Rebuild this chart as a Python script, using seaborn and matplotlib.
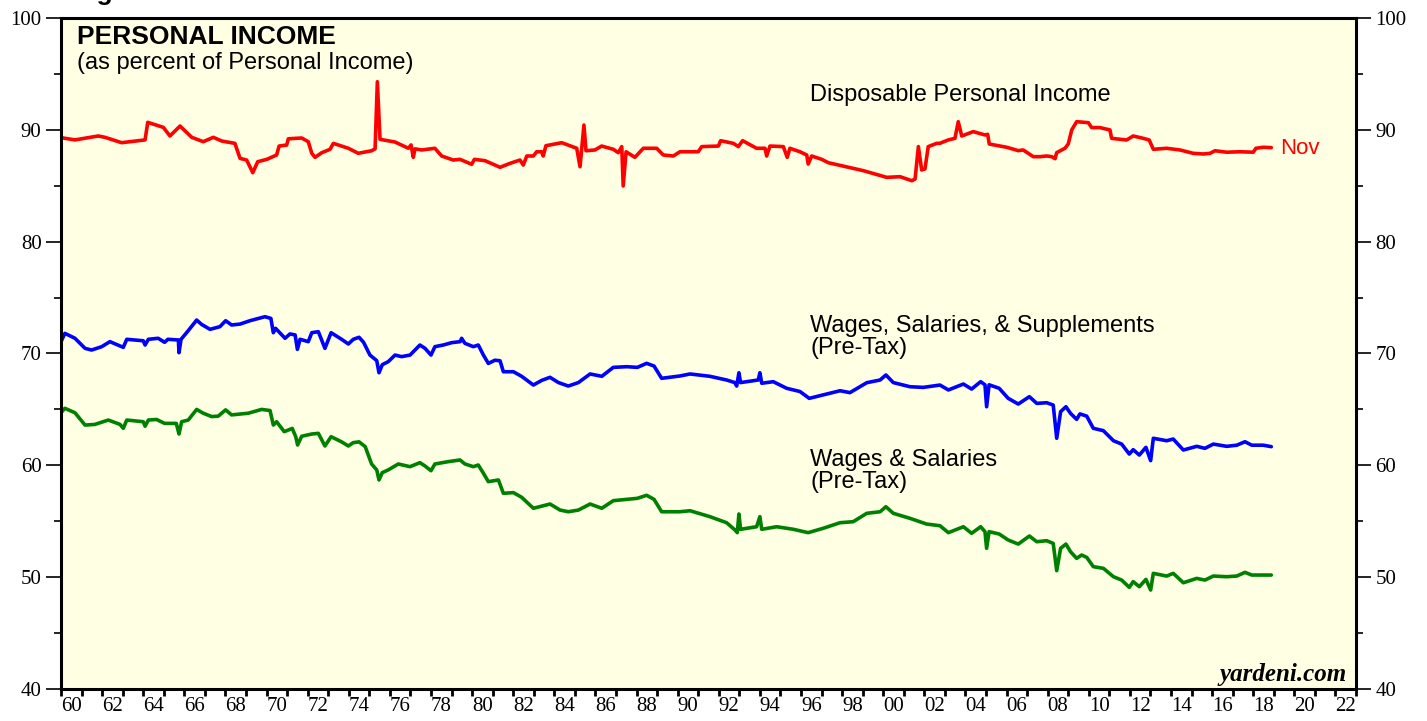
import numpy as np
import pandas as pd
import matplotlib
matplotlib.use("Agg")
import matplotlib.pyplot as plt
import seaborn as sns

# disposable personal income, % of personal income
disp_years = [1960.00, 1960.68, 1961.81, 1962.14, 1962.95, 1964.09, 1964.22, 1964.98, 1965.30, 1965.79,
              1966.36, 1966.92, 1967.41, 1967.82, 1968.46, 1968.71, 1969.03, 1969.33, 1969.57, 1970.01,
              1970.49, 1970.61, 1970.98, 1971.06, 1971.71, 1972.03, 1972.20, 1972.36, 1972.68, 1973.09,
              1973.25, 1973.98, 1974.46, 1975.11, 1975.28, 1975.39, 1975.52, 1976.25, 1976.90, 1977.03,
              1977.14, 1977.22, 1977.55, 1978.19, 1978.52, 1979.08, 1979.41, 1979.98, 1980.11, 1980.63,
              1981.36, 1981.84, 1982.33, 1982.49, 1982.66, 1982.98, 1983.14, 1983.38, 1983.46, 1983.59,
              1984.36, 1985.09, 1985.25, 1985.44, 1985.54, 1985.98, 1986.30, 1986.87, 1987.11, 1987.28,
              1987.35, 1987.49, 1987.92, 1988.33, 1988.98, 1989.30, 1989.79, 1990.11, 1991.00, 1991.17,
              1991.98, 1992.09, 1992.71, 1992.95, 1993.16, 1993.84, 1994.25, 1994.33, 1994.49, 1995.14,
              1995.33, 1995.46, 1995.95, 1996.28, 1996.35, 1996.52, 1997.01, 1997.33, 1999.03, 2000.17,
              2000.82, 2001.39, 2001.55, 2001.71, 2001.87, 2002.03, 2002.19, 2002.60, 2002.76, 2003.17,
              2003.49, 2003.65, 2003.82, 2004.38, 2004.95, 2005.08, 2005.16, 2006.01, 2006.57, 2006.81,
              2007.30, 2007.63, 2007.95, 2008.20, 2008.36, 2008.44, 2008.84, 2009.00, 2009.17, 2009.41,
              2009.98, 2010.14, 2010.54, 2011.03, 2011.11, 2011.84, 2012.16, 2012.65, 2012.94, 2013.14,
              2013.79, 2014.44, 2015.08, 2015.57, 2015.90, 2016.14, 2016.71, 2017.36, 2018.00, 2018.13,
              2018.49, 2018.88]
disp_vals = [89.30, 89.10, 89.45, 89.33, 88.85, 89.10, 90.67, 90.22, 89.45, 90.34,
             89.33, 88.94, 89.33, 89.00, 88.79, 87.45, 87.30, 86.17, 87.15, 87.36,
             87.75, 88.55, 88.64, 89.20, 89.27, 88.94, 87.90, 87.54, 87.95, 88.26,
             88.79, 88.35, 87.90, 88.13, 88.30, 94.30, 89.15, 88.91, 88.35, 88.65,
             87.54, 88.30, 88.20, 88.35, 87.66, 87.30, 87.36, 86.92, 87.36, 87.24,
             86.65, 87.00, 87.30, 86.85, 87.66, 87.66, 88.04, 88.04, 87.66, 88.58,
             88.85, 88.35, 86.70, 90.43, 88.13, 88.20, 88.55, 88.26, 87.96, 88.50,
             84.98, 88.04, 87.54, 88.35, 88.35, 87.75, 87.66, 88.04, 88.04, 88.50,
             88.55, 89.03, 88.79, 88.50, 89.03, 88.35, 88.35, 87.66, 88.55, 88.50,
             87.54, 88.35, 88.04, 87.75, 86.94, 87.66, 87.36, 87.06, 86.35, 85.75,
             85.81, 85.45, 85.60, 88.50, 86.41, 86.50, 88.50, 88.79, 88.80, 89.10,
             89.24, 90.73, 89.45, 89.84, 89.54, 89.60, 88.73, 88.44, 88.14, 88.20,
             87.60, 87.60, 87.66, 87.60, 87.42, 87.96, 88.35, 88.73, 89.99, 90.73,
             90.64, 90.20, 90.20, 89.99, 89.24, 89.09, 89.45, 89.24, 89.09, 88.26,
             88.35, 88.20, 87.90, 87.84, 87.90, 88.13, 88.00, 88.04, 88.00, 88.35,
             88.44, 88.41]

# wages, salaries & supplements, % of personal income
wss_years = [1960.00, 1960.19, 1960.68, 1961.17, 1961.49, 1961.98, 1962.38, 1963.03, 1963.20, 1964.00,
             1964.09, 1964.25, 1964.73, 1965.04, 1965.20, 1965.71, 1965.74, 1965.84, 1966.11, 1966.60,
             1966.84, 1967.25, 1967.73, 1968.01, 1968.30, 1968.71, 1969.19, 1969.92, 1970.21, 1970.33,
             1970.44, 1970.90, 1971.14, 1971.39, 1971.50, 1971.63, 1972.03, 1972.20, 1972.52, 1972.84,
             1973.14, 1973.65, 1973.98, 1974.22, 1974.50, 1974.72, 1975.03, 1975.36, 1975.47, 1975.63,
             1975.92, 1976.25, 1976.57, 1976.98, 1977.46, 1977.71, 1978.00, 1978.19, 1978.60, 1979.01,
             1979.42, 1979.49, 1979.65, 1980.06, 1980.30, 1980.55, 1980.79, 1981.11, 1981.36, 1981.52,
             1982.01, 1982.41, 1982.98, 1983.39, 1983.79, 1984.20, 1984.68, 1985.17, 1985.74, 1986.31,
             1986.87, 1987.52, 1988.04, 1988.49, 1988.85, 1989.22, 1990.11, 1990.60, 1991.57, 1992.38,
             1992.78, 1992.87, 1992.98, 1993.06, 1993.92, 1994.00, 1994.09, 1994.65, 1995.30, 1995.95,
             1996.40, 1997.08, 1997.90, 1998.38, 1999.20, 1999.85, 2000.13, 2000.49, 2001.30, 2001.95,
             2002.76, 2003.17, 2003.90, 2004.30, 2004.74, 2004.95, 2005.03, 2005.15, 2005.64, 2006.08,
             2006.57, 2007.11, 2007.47, 2007.95, 2008.27, 2008.44, 2008.63, 2008.89, 2009.11, 2009.41,
             2009.57, 2009.90, 2010.22, 2010.71, 2011.20, 2011.60, 2011.97, 2012.16, 2012.46, 2012.78,
             2013.01, 2013.14, 2013.79, 2014.11, 2014.60, 2015.25, 2015.65, 2016.06, 2016.71, 2017.20,
             2017.60, 2017.93, 2018.49, 2018.88]
wss_vals = [71.06, 71.80, 71.36, 70.46, 70.31, 70.61, 71.06, 70.55, 71.27, 71.14,
            70.76, 71.27, 71.36, 71.00, 71.27, 71.21, 70.07, 71.27, 71.86, 72.99,
            72.60, 72.16, 72.40, 72.93, 72.55, 72.63, 72.93, 73.29, 73.14, 71.86,
            72.25, 71.36, 71.75, 71.66, 70.37, 71.27, 71.06, 71.86, 71.95, 70.46,
            71.86, 71.27, 70.85, 71.27, 71.45, 71.00, 69.86, 69.36, 68.28, 69.00,
            69.27, 69.86, 69.72, 69.86, 70.76, 70.46, 69.86, 70.61, 70.76, 70.97,
            71.06, 71.36, 70.91, 70.61, 70.76, 69.86, 69.11, 69.40, 69.35, 68.37,
            68.37, 67.96, 67.18, 67.60, 67.87, 67.40, 67.09, 67.40, 68.17, 67.96,
            68.76, 68.82, 68.76, 69.12, 68.88, 67.78, 67.99, 68.17, 67.96, 67.63,
            67.40, 67.09, 68.28, 67.40, 67.63, 68.28, 67.34, 67.48, 66.89, 66.60,
            65.99, 66.30, 66.67, 66.50, 67.39, 67.63, 68.08, 67.40, 67.03, 66.97,
            67.18, 66.74, 67.27, 66.82, 67.48, 67.20, 65.24, 67.20, 66.89, 65.99,
            65.48, 66.14, 65.54, 65.60, 65.39, 62.42, 64.80, 65.24, 64.65, 64.11,
            64.60, 64.40, 63.31, 63.10, 62.20, 61.90, 61.01, 61.40, 60.92, 61.61,
            60.42, 62.42, 62.20, 62.35, 61.37, 61.70, 61.52, 61.90, 61.70, 61.80,
            62.11, 61.80, 61.80, 61.67]

# wages & salaries, % of personal income
ws_years = [1960.00, 1960.19, 1960.68, 1961.17, 1961.65, 1962.30, 1962.87, 1963.03, 1963.20, 1964.00,
            1964.09, 1964.25, 1964.65, 1965.04, 1965.61, 1965.74, 1965.87, 1966.19, 1966.60, 1966.92,
            1967.33, 1967.65, 1968.01, 1968.30, 1969.11, 1969.76, 1970.17, 1970.33, 1970.49, 1970.86,
            1971.25, 1971.42, 1971.51, 1971.71, 1972.20, 1972.52, 1972.84, 1973.14, 1973.65, 1973.98,
            1974.22, 1974.50, 1974.80, 1975.11, 1975.36, 1975.47, 1975.63, 1975.92, 1976.41, 1976.98,
            1977.46, 1977.71, 1978.00, 1978.19, 1978.84, 1979.41, 1979.65, 1980.06, 1980.30, 1980.55,
            1980.79, 1981.28, 1981.52, 1982.01, 1982.41, 1982.98, 1983.79, 1984.28, 1984.68, 1985.17,
            1985.74, 1986.31, 1986.87, 1987.52, 1988.04, 1988.49, 1988.85, 1989.22, 1990.11, 1990.60,
            1991.57, 1992.38, 1992.79, 1992.90, 1992.98, 1993.06, 1993.84, 1994.00, 1994.09, 1994.82,
            1995.63, 1996.35, 1997.08, 1997.90, 1998.54, 1999.20, 1999.85, 2000.13, 2000.49, 2001.30,
            2002.11, 2002.76, 2003.17, 2003.90, 2004.30, 2004.74, 2004.95, 2005.03, 2005.15, 2005.64,
            2006.08, 2006.57, 2007.11, 2007.47, 2007.95, 2008.27, 2008.44, 2008.63, 2008.89, 2009.11,
            2009.41, 2009.65, 2009.90, 2010.22, 2010.71, 2011.20, 2011.60, 2011.97, 2012.16, 2012.46,
            2012.78, 2013.01, 2013.14, 2013.79, 2014.11, 2014.60, 2015.25, 2015.65, 2016.06, 2016.71,
            2017.20, 2017.60, 2017.93, 2018.49, 2018.88]
ws_vals = [64.71, 65.10, 64.70, 63.60, 63.66, 64.05, 63.66, 63.31, 64.05, 63.90,
           63.50, 64.05, 64.10, 63.75, 63.75, 62.80, 63.90, 64.05, 65.00, 64.66,
           64.36, 64.40, 64.96, 64.51, 64.66, 65.00, 64.90, 63.60, 63.90, 63.01,
           63.30, 62.56, 61.82, 62.60, 62.80, 62.86, 61.73, 62.56, 62.10, 61.73,
           62.03, 62.10, 61.67, 60.12, 59.59, 58.69, 59.35, 59.59, 60.12, 59.88,
           60.24, 59.94, 59.52, 60.12, 60.33, 60.48, 60.12, 59.88, 60.03, 59.29,
           58.54, 58.69, 57.50, 57.56, 57.14, 56.16, 56.54, 56.00, 55.85, 56.00,
           56.54, 56.16, 56.84, 56.96, 57.05, 57.32, 56.96, 55.85, 55.85, 55.94,
           55.41, 54.87, 54.22, 53.98, 55.65, 54.28, 54.51, 55.41, 54.28, 54.51,
           54.28, 53.98, 54.37, 54.87, 54.96, 55.71, 55.85, 56.30, 55.71, 55.26,
           54.75, 54.60, 53.98, 54.51, 53.92, 54.51, 54.07, 52.58, 54.07, 53.86,
           53.32, 52.96, 53.68, 53.17, 53.26, 53.02, 50.58, 52.58, 52.96, 52.28,
           51.68, 51.98, 51.77, 50.94, 50.79, 50.04, 49.74, 49.09, 49.60, 49.15,
           49.80, 48.85, 50.34, 50.10, 50.34, 49.50, 49.89, 49.74, 50.10, 50.04,
           50.10, 50.43, 50.19, 50.19, 50.19]

series_names = ["Disposable Personal Income", "Wages, Salaries, & Supplements", "Wages & Salaries"]
series_colors = ["#ff0000", "#0000ff", "#008000"]

df = pd.concat([
    pd.DataFrame({"year": disp_years, "pct": disp_vals, "series": series_names[0]}),
    pd.DataFrame({"year": wss_years, "pct": wss_vals, "series": series_names[1]}),
    pd.DataFrame({"year": ws_years, "pct": ws_vals, "series": series_names[2]}),
])

sns.set_style("ticks")
plt.rcParams['font.family'] = ['Liberation Sans', 'DejaVu Sans']
plt.rcParams['text.color'] = 'black'
plt.rcParams['xtick.color'] = 'black'
plt.rcParams['ytick.color'] = 'black'

fig = plt.figure(figsize=(14.27, 7.21), dpi=100)
ax = fig.add_axes([61 / 1427, 32 / 721, 1295 / 1427, 671 / 721])
ax.set_facecolor("#ffffe3")

sns.lineplot(data=df, x="year", y="pct", hue="series", palette=dict(zip(series_names, series_colors)),
             estimator=None, linewidth=2.6, legend=False, ax=ax)

ax.set_xlim(1960, 2023)
ax.set_ylim(40, 100)
ax.set_xlabel("")
ax.set_ylabel("")

# year boundaries get the tick marks, labels sit mid-year
ax.set_xticks(np.arange(1960, 2024))
ax.set_xticklabels([])
ax.set_xticks(np.arange(1960.5, 2023, 2), minor=True)
ax.set_xticklabels([f"{int(y) % 100:02d}" for y in np.arange(1960, 2023, 2)], minor=True)
ax.tick_params(axis="x", which="major", direction="out", length=5, width=2, color="black")
ax.tick_params(axis="x", which="minor", length=0, pad=6, labelsize=15)

ax.set_yticks(np.arange(40, 101, 10))
ax.set_yticks(np.arange(45, 100, 10), minor=True)
ax.tick_params(axis="y", which="major", direction="out", length=11, width=1.2,
               left=True, right=True, labelleft=True, labelright=True, labelsize=15, pad=3)
ax.tick_params(axis="y", which="minor", direction="out", length=5, width=1.2, left=True, right=True)

for lab in ax.get_xticklabels(minor=True) + ax.get_yticklabels():
    lab.set_fontfamily("Liberation Serif")

for side in ["left", "right", "top", "bottom"]:
    ax.spines[side].set_visible(True)
    ax.spines[side].set_color("black")
    ax.spines[side].set_linewidth(2.2)

# titles and series labels
ax.text(0.0124, 0.989, "PERSONAL INCOME", transform=ax.transAxes, fontsize=19, fontweight="bold",
        va="top", ha="left")
ax.text(0.0124, 0.950, "(as percent of Personal Income)", transform=ax.transAxes, fontsize=17,
        va="top", ha="left")
ax.text(1996.45, 93.1, "Disposable Personal Income", fontsize=17, va="center", ha="left")
ax.text(1996.45, 71.45, "Wages, Salaries, & Supplements\n(Pre-Tax)", fontsize=17, va="center",
        ha="left", linespacing=1.0)
ax.text(1996.45, 59.45, "Wages & Salaries\n(Pre-Tax)", fontsize=17, va="center", ha="left",
        linespacing=1.0)
ax.text(2019.3, 88.35, "Nov", fontsize=16, color="#ff0000", va="center", ha="left")
ax.text(0.9925, 0.021, "yardeni.com", transform=ax.transAxes, fontsize=18, fontweight="bold",
        fontstyle="italic", fontfamily="Liberation Serif", va="center", ha="right")

fig.text(73 / 1427, 1.0, "Figure 10.", fontsize=19, fontweight="bold", va="baseline", ha="left")

fig.savefig("out.png", dpi=100, facecolor="white")
